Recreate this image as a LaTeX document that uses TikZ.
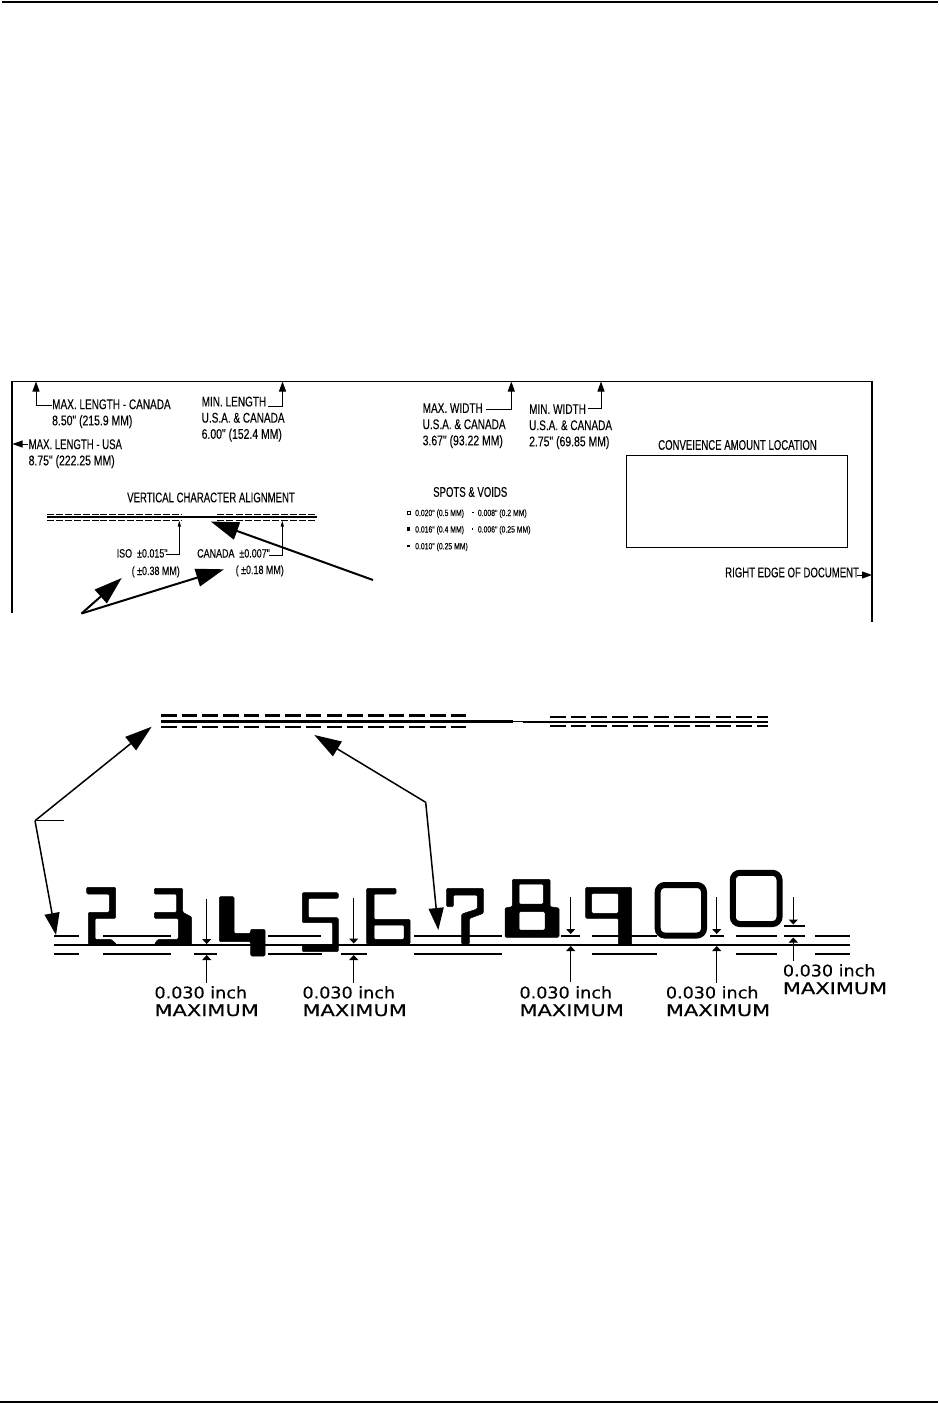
\documentclass[tikz,border=0pt]{standalone}
\usepackage{fontspec}
\usetikzlibrary{arrows.meta}
\setmainfont{Liberation Sans}
\newfontfamily\narrowf[FakeStretch=0.715,FakeBold=0.15]{Liberation Sans}
\newfontfamily\capsf[FakeStretch=0.685,FakeBold=0.15]{Liberation Sans}
\newfontfamily\numf[FakeStretch=0.745,FakeBold=0.15]{Liberation Sans}
\newfontfamily\tinyf[FakeStretch=0.76,FakeBold=0.1]{Liberation Sans}
\newfontfamily\widef[FakeStretch=1.09,FakeBold=0.3]{DejaVu Sans}
\newfontfamily\widecaps[FakeStretch=1.3,FakeBold=0.3]{DejaVu Sans}
\newcommand{\capg}{\fontsize{14}{16.2}\capsf}
\newcommand{\nmg}{\fontsize{14}{16.2}\numf}
\newcommand{\dimtext}{\widef 0.030 inch\\\widecaps MAXIMUM}
\tikzset{
  lab/.style={inner sep=0pt,anchor=base west,align=left,yshift=0.7pt,font=\narrowf\fontsize{14}{16.2}\selectfont},
  small/.style={inner sep=0pt,anchor=base west,font=\numf\fontsize{12}{17}\selectfont},
  tiny/.style={inner sep=0pt,anchor=base west,font=\tinyf\fontsize{9}{10}\selectfont},
  wide/.style={inner sep=0pt,anchor=base west,align=left,font=\widef\fontsize{16.1}{17.6}\selectfont},
  frameline/.style={line width=1.3pt,black},
  bigarrow/.style={line width=2pt,-{Triangle[length=28pt,width=18pt]}},
  midarrow/.style={line width=1.5pt,-{Triangle[length=27pt,width=17pt]}},
  midarrowb/.style={line width=1.5pt,-{Triangle[length=22pt,width=15pt]}},
  cornerarrow/.style={line width=1pt,-{Triangle[length=10pt,width=7pt]}},
  pinarrow/.style={line width=0.8pt,-{Triangle[length=6pt,width=3pt]}},
  dimarrow/.style={line width=1pt,-{Triangle[length=5pt,width=9pt]}},
  bar/.style={line width=1.8pt,black},
  digit/.style={fill=black,draw=black,line width=0.5pt,even odd rule,rounded corners=1.2pt},
  zero/.style={draw=black,line width=6pt,rounded corners=7pt},
}
\begin{document}
\begin{tikzpicture}[x=1pt,y=-1pt]
\useasboundingbox (0,0) rectangle (938,1404);
% page rules
\coordinate (tl) at (2,2); \coordinate (tr) at (938,2);
\coordinate (bl) at (0,1402); \coordinate (br) at (938,1402);
\draw[line width=2.2pt] (tl) -- (tr);
\draw[line width=2.2pt] (bl) -- (br);
% top panel frame
\coordinate (fa) at (12,613); \coordinate (fb) at (12,381.5);
\coordinate (fc) at (872,381.5); \coordinate (fd) at (872,622);
\draw[frameline,line join=miter] (fa) -- (fb) -- (fc) -- (fd);
% labels
\node[lab] (maxlc) at (52,426) {MAX. LENGTH - CANADA\\\nmg 8.50" (215.9 MM)};
\node[lab] (maxlu) at (28.5,466) {\capg MAX. LENGTH - USA\\\nmg 8.75" (222.25 MM)};
\node[lab] (minl) at (201.5,439.5) {MIN. LENGTH\\U.S.A. \& CANADA\\\nmg 6.00" (152.4 MM)};
\node[lab] (maxw) at (422.5,446) {MAX. WIDTH\\U.S.A. \& CANADA\\\nmg 3.67" (93.22 MM)};
\node[lab] (minw) at (529,447) {MIN. WIDTH\\U.S.A. \& CANADA\\\nmg 2.75" (69.85 MM)};
\node[lab,font=\capg] (conv) at (658,450.5) {CONVEIENCE AMOUNT LOCATION};
\node[lab,font=\capg] (redge) at (725,578) {RIGHT EDGE OF DOCUMENT};
\node[lab,font=\capg] (spots) at (433,497.5) {SPOTS \& VOIDS};
\node[lab,font=\capg] (vert) at (127,503) {VERTICAL CHARACTER ALIGNMENT};
\node[small] (iso) at (116.5,557.5) {ISO \ ±0.015"};
\node[small] (isom) at (131.5,575) {( ±0.38 MM)};
\node[small] (can) at (197,557.5) {CANADA \ ±0.007"};
\node[small] (canm) at (235.5,574) {( ±0.18 MM)};
\node[tiny] (s1) at (415,516) {0.020" (0.5 MM)};
\node[tiny] (s2) at (415,532.5) {0.016" (0.4 MM)};
\node[tiny] (s3) at (415,549.3) {0.010" (0.25 MM)};
\node[tiny] (s4) at (477.7,516) {0.008" (0.2 MM)};
\node[tiny] (s5) at (477.7,532.5) {0.006" (0.25 MM)};
% spot symbols
\node[draw=black,line width=0.7pt,minimum size=3pt,inner sep=0pt] (d1) at (408.5,512.5) {};
\node[fill=black,minimum size=3.2pt,inner sep=0pt] (d2) at (408.5,529) {};
\node[fill=black,minimum size=2.2pt,inner sep=0pt] (d3) at (408.5,546) {};
\node[fill=black,minimum size=1.8pt,inner sep=0pt] (d4) at (472.7,512.5) {};
\node[fill=black,minimum size=1.3pt,inner sep=0pt] (d5) at (472.7,529) {};
% amount box
\node[draw=black,line width=1.1pt,minimum width=221pt,minimum height=92pt,inner sep=0pt,anchor=north west] (box) at (625.7,454.7) {};
% corner leaders
\coordinate (a1) at (51.5,405.5); \coordinate (a1t) at (36,381.5);
\draw[cornerarrow] (a1) -| (a1t);
\coordinate (a2) at (28,444); \coordinate (a2t) at (12.5,444);
\draw[cornerarrow] (a2) -- (a2t);
\coordinate (a3) at (268,406.7); \coordinate (a3t) at (282.5,381.5);
\draw[cornerarrow] (a3) -| (a3t);
\coordinate (a4) at (486,409.3); \coordinate (a4t) at (511.3,381.5);
\draw[cornerarrow] (a4) -| (a4t);
\coordinate (a5) at (588,408.3); \coordinate (a5t) at (601,381.5);
\draw[cornerarrow] (a5) -| (a5t);
\coordinate (a6) at (857,575); \coordinate (a6t) at (872,575);
\draw[cornerarrow] (a6) -- (a6t);
% small alignment lines
\coordinate (sa) at (47,517); \coordinate (sb) at (317,517);
\draw[line width=1.1pt] (sa) -- (sb);
\foreach \yy in {514,520}{
  \draw[line width=0.8pt,dash pattern=on 7pt off 1.9pt] (47,\yy) -- (181,\yy);
  \draw[line width=0.8pt,dash pattern=on 7pt off 2.1pt] (217.3,\yy) -- (317,\yy);
}
\coordinate (p1) at (166,554.5); \coordinate (p1t) at (179.3,520.5);
\draw[pinarrow] (p1) -| (p1t);
\coordinate (p2) at (269,555.5); \coordinate (p2t) at (282.3,520.5);
\draw[pinarrow] (p2) -| (p2t);
% big arrows top
\coordinate (g1) at (373,580); \coordinate (g1t) at (210.7,521.5);
\draw[bigarrow] (g1) -- (g1t);
\coordinate (g2) at (81.5,613.5); \coordinate (g2t) at (224,569.3);
\coordinate (g3t) at (121.7,578);
\draw[bigarrow] (g2) -- (g2t);
\draw[bigarrow] (g2) -- (g3t);
% lower top triple line
\coordinate (la) at (161,721.5); \coordinate (lb) at (513,721.5);
\coordinate (lc) at (523,721.5); \coordinate (ld) at (768,721.5);
\draw[line width=2.1pt] (la) -- (lb);
\draw[line width=0.8pt] (lb) -- (lc);
\draw[line width=2pt] (lc) -- (ld);
\foreach \yy in {715.7,727}{
  \draw[line width=2.6pt,dash pattern=on 15.5pt off 5.2pt] (161,\yy) -- (466.7,\yy);
}
\foreach \yy in {717.3,725.7}{
  \draw[line width=1.7pt,dash pattern=on 15.5pt off 5.2pt] (550,\yy) -- (768,\yy);
}
% long arrows
\coordinate (h1) at (35,820.7); \coordinate (h1e) at (64,820.7);
\coordinate (h1a) at (151.7,726.7); \coordinate (h1b) at (56,935);
\draw[line width=1.3pt] (h1) -- (h1e);
\draw[midarrow] (h1) -- (h1a);
\draw[midarrowb] (h1) -- (h1b);
\coordinate (h2) at (425.7,802.3); \coordinate (h2a) at (314.3,735); \coordinate (h2b) at (438.3,930);
\draw[midarrow] (h2) -- (h2a);
\draw[midarrowb] (h2) -- (h2b);
% digit rows
\coordinate (ba) at (54,945); \coordinate (bb) at (850,945);
\draw[line width=2.5pt] (ba) -- (bb);
\foreach \a/\b in {54/79,103.3/171,268.3/321,414.3/501.7,592.3/656.7,736/777.3,815/850,561/580,710/724,784.3/805}{
  \draw[bar] (\a,935.7) -- (\b,935.7);
}
\draw[bar] (784.3,925.7) -- (805,925.7);
\foreach \a/\b in {54/79,103.3/171,194.3/217.3,268/321.7,340.7/366.7,414.3/501.7,592.3/656.7,736/777.3,815/850}{
  \draw[bar] (\a,954.3) -- (\b,954.3);
}
% digits
\filldraw[digit] (86.7,887.3) -- (115.7,887.3) -- (115.7,918.3) -- (95,918.3) -- (95,939.3) -- (111,939.3) -- (116.7,944.3) -- (88.3,944.3) -- (88.3,912.3) -- (109.3,912.3) -- (109.3,894) -- (86.7,894) -- cycle;
\filldraw[digit] (154.3,888.3) -- (182.7,888.3) -- (182.7,912.3) -- (191.7,917) -- (191.7,944.3) -- (154.3,944.3) -- (158,939.3) -- (178.3,939.3) -- (178.3,918.3) -- (154.3,918.3) -- (154.3,912.3) -- (176.7,912.3) -- (176.7,894) -- (154.3,894) -- cycle;
\filldraw[digit] (219.3,896.7) -- (234,896.7) -- (234,933.3) -- (250.7,933.3) -- (250.7,929.3) -- (265,929.3) -- (265,956) -- (250.7,956) -- (250.7,941.7) -- (219.3,941.7) -- cycle;
\filldraw[digit] (302.3,892.7) -- (338.3,892.7) -- (338.3,898.3) -- (308.3,898.3) -- (308.3,917.7) -- (338.3,917.7) -- (338.3,951.7) -- (302.3,951.7) -- (302.3,945) -- (332.7,945) -- (332.7,922.7) -- (302.3,922.7) -- cycle;
\filldraw[digit] (366.7,888.3) -- (396,888.3) -- (396,894) -- (374,894) -- (374,919.3) -- (410,919.3) -- (410,944.3) -- (366.7,944.3) -- cycle (374,925) -- (404,925) -- (404,939.3) -- (374,939.3) -- cycle;
\filldraw[digit] (446.7,888.3) -- (483.3,888.3) -- (483.3,913.3) -- (469.3,918.5) -- (469.3,944.3) -- (461.7,944.3) -- (461.7,914) -- (477.3,909) -- (477.3,895) -- (453.3,895) -- (453.3,906.7) -- (446.7,906.7) -- cycle;
\filldraw[digit] (512.3,879.3) -- (550,879.3) -- (550,906.7) -- (559,908) -- (559,937.3) -- (505,937.3) -- (505,908) -- (512.3,906.7) -- cycle (519,884) -- (543.3,884) -- (543.3,904) -- (519,904) -- cycle (519,911.7) -- (545,911.7) -- (545,930) -- (519,930) -- cycle;
\filldraw[digit] (585.7,887.3) -- (631.7,887.3) -- (631.7,945) -- (618.3,945) -- (618.3,918.3) -- (585.7,918.3) -- cycle (591.7,893.3) -- (618.3,893.3) -- (618.3,913.3) -- (591.7,913.3) -- cycle;
\draw[zero] (657.7,885) rectangle (704,935.5);
\draw[zero] (732.8,872.8) rectangle (779.5,924);
% dimension arrows
\foreach \n/\x/\ya/\yb/\yc/\yd in {q1/206.7/899/944/983/955,q2/353.7/898/943.5/983/955,q3/570.7/897/934/982/946,q4/716.7/897/934/983/946}{
  \coordinate (\n a) at (\x,\ya); \coordinate (\n b) at (\x,\yb);
  \coordinate (\n c) at (\x,\yc); \coordinate (\n d) at (\x,\yd);
  \draw[dimarrow] (\n a) -- (\n b);
  \draw[dimarrow] (\n c) -- (\n d);
}
\coordinate (q5a) at (793.3,897); \coordinate (q5b) at (793.3,924.5);
\coordinate (q5c) at (793.3,961); \coordinate (q5d) at (793.3,937.5);
\draw[dimarrow] (q5a) -- (q5b);
\draw[dimarrow] (q5c) -- (q5d);
% dimension labels
\node[wide] (t1) at (154.3,1016) {\dimtext};
\node[wide] (t2) at (302.3,1016) {\dimtext};
\node[wide] (t3) at (519.3,1016) {\dimtext};
\node[wide] (t4) at (665.7,1016) {\dimtext};
\node[wide] (t5) at (782.7,994) {\dimtext};
\end{tikzpicture}
\end{document}
